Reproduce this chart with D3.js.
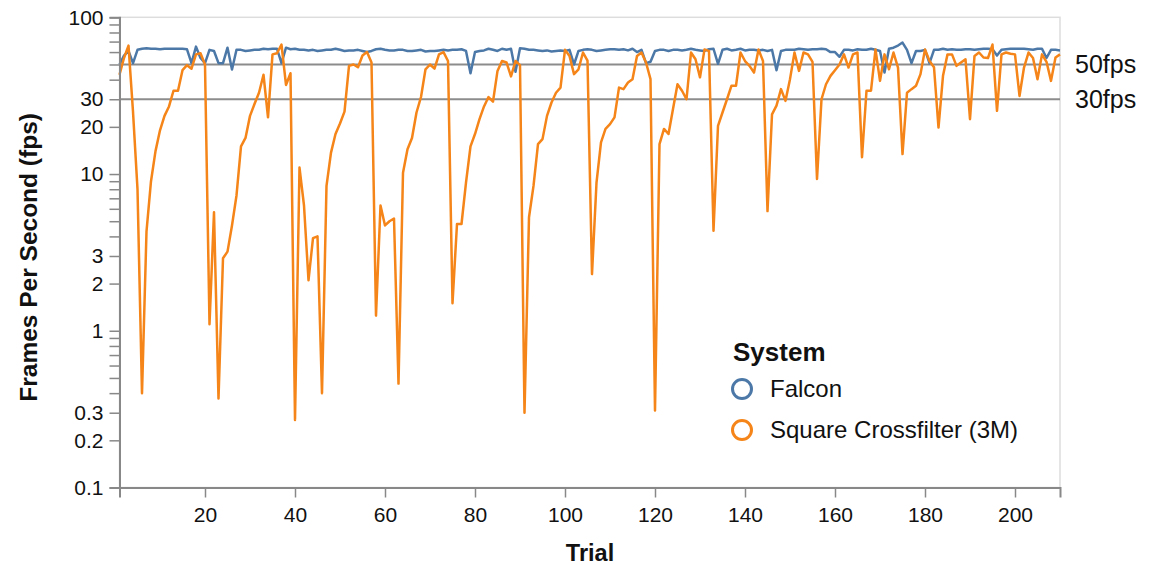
<!DOCTYPE html>
<html><head><meta charset="utf-8">
<script src="https://cdn.jsdelivr.net/npm/d3@7"></script>
<style>
body{margin:0;background:#fff;}
text{font-family:"Liberation Sans",Arial,Helvetica,sans-serif;fill:#111;}
</style>
</head><body>
<svg id="chart" width="1157" height="565"></svg>
<script>
// ---- data ----
const seriesNames = ["Falcon", "Square Crossfilter (3M)"];
const seriesColors = ["#4c78a8", "#f58518"];
const falcon = [50,57,61,51,62,63,63.5,63,63,62.5,63,63,63,63,63,62.5,51,65,55,51,
62,61,51,51,64,46.5,62,62,61,61.5,62,62,63,62.5,63,63,51,64,62.5,63,
62,62,61.5,62,61,61.5,62,62,63,62,61,61.5,61.5,62,61,60,61,62.5,63,62,
61.5,61.5,62,62,61,61,61.5,62,60.5,61,61,61.5,62,61.5,62,62,62.5,61,44,60,
61,61.5,63,62,61,63,62,63,45,63.5,63,62,62,61.5,61,61.5,60.5,61,61.5,61,
62,50,61,62,62.5,62,61,61.5,62,62.5,62.5,62,62.5,61.5,63,60,62,51,52,61,
62,62,61,62,62,61.5,62,63,62,61.5,61,62.5,63,50.5,62,63,61.5,62,63,61.5,
62,62,61.5,62,61,62,46,61,62,62,62,63,62.5,62,62.5,62.5,63,62.5,60,60,
56,62,62,61.5,62.5,62,62,63,62,61,44.5,63,64,66,69,62,51,61,61,62,
51,62,62,63,62,62.5,62,62,62.5,62.5,62,62.5,63,63,62.5,57,62,62.5,63,63,
63,63,62.5,62,63,63,55,62,62,61.5];
const crossfilter = [43,55,66,25,8,0.4,4.3,9,14,19,23.5,27,34,34,46,49.5,47,58,59,50,
1.1,5.7,0.37,2.9,3.2,4.7,7.3,15,17,23.5,28,33,43,23,58,59,67,37,44,0.27,
11,6.3,2.1,3.9,4.0,0.4,8.4,13.7,18,21,25,49,50,48,57,60,51.5,1.25,6.3,4.7,
5.0,5.2,0.46,10.2,14.4,17,24.7,31,46.6,50,47,58,60,52.6,1.5,4.8,4.8,8.8,15,18,
22.4,27,31,29,45.5,52.6,51.5,42,52.6,49.5,0.3,5.3,8.4,15.5,16.7,23.5,28.6,33,35.6,62,
56.7,43.4,46.6,59.6,53,2.3,8.8,15.9,19.4,20.8,23,35.6,34.8,38.4,40.3,56.7,59.6,51.5,40.3,0.31,
15.5,19.4,18,26,37.4,34,30,59.6,54,41.4,62.4,60.8,4.35,20.3,24.7,30,36.6,36.6,59.6,52.6,
49,44.4,62.4,52.6,5.8,24,27.3,34.8,29.3,40.3,59.6,45.5,59.6,58,52,9.3,30,37.4,42.3,46,
50,58,47.8,58,59.6,12.8,34,34,62.4,39.3,58,46.6,59.6,47.8,13.4,33,34.8,36.6,43.4,62.4,
52.6,48,19.8,42.3,58,58,49,51.5,54,22.4,56.7,59.6,55.4,55,67,25.3,58,59.6,58.5,58,
31.5,47.8,59.6,55,40.3,58,52,39.3,55.4,58];
const trialStart = 1;
const xTicks = [20,40,60,80,100,120,140,160,180,200];
const yTicks = [0.1,0.2,0.3,0.4,0.5,0.6,0.7,0.8,0.9,1,2,3,4,5,6,7,8,9,10,20,30,40,50,60,70,80,90,100];
const yTickLabels = {0.1:"0.1",0.2:"0.2",0.3:"0.3",1:"1",2:"2",3:"3",10:"10",20:"20",30:"30",100:"100"};
const refValues = [50, 30];
const refLabels = ["50fps", "30fps"];

// ---- layout ----
const svg = d3.select("#chart");
const L = 119.5, R = 1060, T = 17.3, B = 487.5;
const x = d3.scaleLinear().domain([1, 210]).range([L, R]);
const y = d3.scaleLog().domain([0.1, 100]).range([B, T]);

// plot frame
svg.append("rect").attr("x", L).attr("y", T).attr("width", R - L).attr("height", B - T)
  .attr("fill", "none").attr("stroke", "#ddd").attr("stroke-width", 1.5);

// reference lines
svg.append("g").selectAll("line").data(refValues).join("line")
  .attr("x1", L).attr("x2", R).attr("y1", d => y(d)).attr("y2", d => y(d))
  .attr("stroke", "#8c8c8c").attr("stroke-width", 2);
svg.append("g").selectAll("text").data(refValues).join("text")
  .attr("x", 1075).attr("y", d => y(d)).attr("dy", "0.36em")
  .attr("font-size", 25).text((d, i) => refLabels[i]);

// lines
const line = d3.line().x((d, i) => x(trialStart + i)).y(d => y(d));
[falcon, crossfilter].forEach((s, k) => {
  svg.append("path").datum(s).attr("d", line)
    .attr("fill", "none").attr("stroke", seriesColors[k])
    .attr("stroke-width", 2.5).attr("stroke-linejoin", "round");
});

// axes
const yAxis = d3.axisLeft(y).tickValues(yTicks)
  .tickFormat(d => yTickLabels[d] || "").tickSize(10).tickPadding(6);
const gy = svg.append("g").attr("transform", `translate(${L},0)`).call(yAxis);
const xAxis = d3.axisBottom(x).tickValues(xTicks).tickSize(10).tickPadding(10);
const gx = svg.append("g").attr("transform", `translate(0,${B})`).call(xAxis);
[gx, gy].forEach(g => {
  g.select(".domain").attr("stroke", "#888").attr("stroke-width", 2);
  g.selectAll(".tick line").attr("stroke", "#888").attr("stroke-width", 1.5);
  g.selectAll(".tick text").attr("font-size", 21).attr("fill", "#111")
   .attr("font-family", "'Liberation Sans',Arial,sans-serif");
});

// axis titles
svg.append("text").attr("x", 590).attr("y", 561).attr("text-anchor", "middle")
  .attr("font-weight", "bold").attr("font-size", 23.5).text("Trial");
svg.append("text").attr("transform", `translate(37,${(T + B) / 2 + 5}) rotate(-90)`)
  .attr("text-anchor", "middle").attr("font-weight", "bold").attr("font-size", 24.5)
  .text("Frames Per Second (fps)");

// legend
const lg = svg.append("g").attr("transform", "translate(733,0)");
lg.append("text").attr("x", 0).attr("y", 361).attr("font-weight", "bold")
  .attr("font-size", 26).text("System");
seriesNames.forEach((n, i) => {
  const cy = 389 + i * 41;
  lg.append("circle").attr("cx", 9).attr("cy", cy).attr("r", 9.5)
    .attr("fill", "none").attr("stroke", seriesColors[i]).attr("stroke-width", 3);
  lg.append("text").attr("x", 37).attr("y", cy).attr("dy", "0.35em")
    .attr("font-size", 24).text(n);
});
</script>
</body></html>
